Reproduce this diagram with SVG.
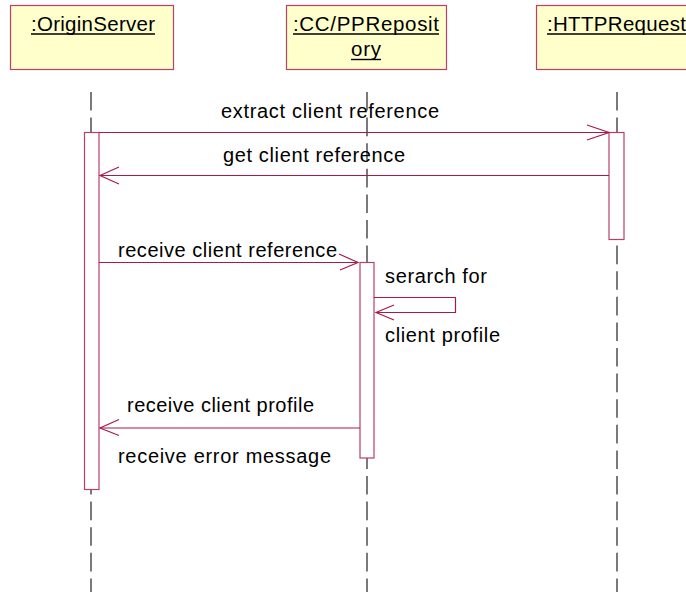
<svg xmlns="http://www.w3.org/2000/svg" width="686" height="592" viewBox="0 0 686 592">
  <style>
    .obj { fill: #FFFFCC; stroke: #B8406A; stroke-width: 1.2; }
    .name { font-family: "Liberation Sans", Arial, sans-serif; font-size: 20.5px; fill: #000; }
    .uline { stroke: #000; stroke-width: 1.4; }
    .life { stroke: #222; stroke-width: 1.2; stroke-dasharray: 18.6 7; fill: none; }
    .act { fill: #FFFFFF; stroke: #B8406A; stroke-width: 1.2; }
    .msg { stroke: #A81A4E; stroke-width: 1.2; fill: none; }
    .label { font-family: "Liberation Sans", Arial, sans-serif; font-size: 20px; fill: #000; }
  </style>
  <rect width="686" height="592" fill="#FFFFFF"/>

  <!-- lifelines -->
  <g id="lifelines">
    <line class="life" x1="91" y1="92" x2="91" y2="592"/>
    <line class="life" x1="367" y1="92" x2="367" y2="592"/>
    <line class="life" x1="617" y1="92" x2="617" y2="592"/>
  </g>

  <!-- objects -->
  <g id="originServer">
    <rect class="obj" x="10.5" y="5.5" width="163" height="64"/>
    <text class="name" x="31" y="31" textLength="124" lengthAdjust="spacing">:OriginServer</text>
    <line class="uline" x1="31" y1="34" x2="155" y2="34"/>
    <rect class="act" x="84.5" y="132.5" width="14.5" height="357"/>
  </g>
  <g id="ccppRepository">
    <rect class="obj" x="286.5" y="5.5" width="160" height="64"/>
    <text class="name" x="293" y="31" textLength="146" lengthAdjust="spacing">:CC/PPReposit</text>
    <line class="uline" x1="293" y1="34" x2="439" y2="34"/>
    <text class="name" x="351" y="56" textLength="30" lengthAdjust="spacing">ory</text>
    <line class="uline" x1="351" y1="59.5" x2="381" y2="59.5"/>
    <rect class="act" x="360" y="262.5" width="14" height="195.5"/>
  </g>
  <g id="httpRequest">
    <rect class="obj" x="536.5" y="5.5" width="162" height="64"/>
    <text class="name" x="547" y="31" textLength="139" lengthAdjust="spacing">:HTTPRequest</text>
    <line class="uline" x1="547" y1="34" x2="686" y2="34"/>
    <rect class="act" x="609" y="132.5" width="15" height="107"/>
  </g>

  <!-- messages -->
  <g id="connectors">
    <line class="msg" x1="99" y1="132.5" x2="609" y2="132.5"/>
    <polyline class="msg" points="587,125 609,132.5 587,140"/>

    <line class="msg" x1="609" y1="175.5" x2="100" y2="175.5"/>
    <polyline class="msg" points="119,167 100,175.5 119,184"/>

    <line class="msg" x1="99" y1="262.5" x2="358" y2="262.5"/>
    <polyline class="msg" points="339,254 358,262.5 340,270"/>

    <polyline class="msg" points="374,297.5 455.5,297.5 455.5,312.5 376,312.5"/>
    <polyline class="msg" points="394,305 376,312.5 394,320"/>

    <line class="msg" x1="360" y1="428" x2="100" y2="428"/>
    <polyline class="msg" points="119,419.5 100,428 119,435.5"/>
  </g>

  <!-- message labels -->
  <g id="labels">
    <text class="label" x="221" y="118" textLength="218" lengthAdjust="spacing">extract client reference</text>
    <text class="label" x="223" y="162" textLength="182" lengthAdjust="spacing">get client reference</text>
    <text class="label" x="118" y="257" textLength="219" lengthAdjust="spacing">receive client reference</text>
    <text class="label" x="385" y="283" textLength="102" lengthAdjust="spacing">serarch for</text>
    <text class="label" x="385" y="342" textLength="115" lengthAdjust="spacing">client profile</text>
    <text class="label" x="127" y="412" textLength="187" lengthAdjust="spacing">receive client profile</text>
    <text class="label" x="118" y="463" textLength="213" lengthAdjust="spacing">receive error message</text>
  </g>
</svg>
